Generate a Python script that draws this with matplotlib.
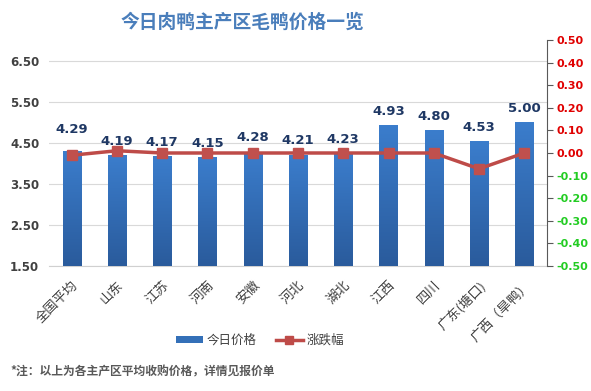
import numpy as np
import matplotlib
matplotlib.use("Agg")
import matplotlib.pyplot as plt
from matplotlib.colors import LinearSegmentedColormap
from matplotlib.lines import Line2D
from matplotlib.patches import Patch

plt.rcParams['font.family'] = ['Noto Sans CJK SC', 'DejaVu Sans']

# data
regions = ['全国平均', '山东', '江苏', '河南', '安徽', '河北', '湖北', '江西', '四川', '广东(塘口)', '广西（旱鸭）']
prices = [4.29, 4.19, 4.17, 4.15, 4.28, 4.21, 4.23, 4.93, 4.80, 4.53, 5.00]
changes = [-0.01, 0.01, 0.00, 0.00, 0.00, 0.00, 0.00, 0.00, 0.00, -0.07, 0.00]
left_ticks = [1.5, 2.5, 3.5, 4.5, 5.5, 6.5]
right_ticks = [0.5, 0.4, 0.3, 0.2, 0.1, 0.0, -0.1, -0.2, -0.3, -0.4, -0.5]

fig = plt.figure(figsize=(5.91, 3.91), dpi=100)
ax = fig.add_axes([0.0829, 0.3197, 0.8426, 0.578])
ax2 = ax.twinx()

x = np.arange(len(regions))
bars = ax.bar(x, prices, width=0.4, bottom=0, color='#3470b8', zorder=2)

# gradient fill on the bars
cmap = LinearSegmentedColormap.from_list('blu', ['#2a5b9c', '#3b7dcc'])
grad = np.linspace(0, 1, 100).reshape(-1, 1)
for b in bars:
	bx, bw, bh = b.get_x(), b.get_width(), b.get_height()
	im = ax.imshow(grad, cmap=cmap, origin='lower', aspect='auto',
				   extent=[bx, bx + bw, 1.5, bh], zorder=3)
	im.set_clip_path(b)
ax.set_xlim(-0.5, len(regions) - 0.5)
ax.set_ylim(1.5, 7.0)

ax.set_yticks(left_ticks)
ax.set_yticklabels(['%.2f' % t for t in left_ticks], fontsize=8.5, color='#404040',
				   fontweight='semibold', family='DejaVu Sans')
ax.yaxis.grid(True, color='#d9d9d9', linewidth=0.8, zorder=0)
ax.set_axisbelow(True)
ax.tick_params(axis='y', length=0, pad=7)
ax.set_xticks(x)
ax.set_xticklabels(regions, rotation=45, ha='right', va='top', rotation_mode='anchor',
				   fontsize=9.5, color='#404040')
ax.tick_params(axis='x', length=0, pad=9)
for s in ['top', 'left', 'right']:
	ax.spines[s].set_visible(False)
ax.spines['bottom'].set_color('#d0d0d0')

# change line
ax2.plot(x, changes, color='#be4b48', linewidth=2.5, marker='s', markersize=7,
		 markerfacecolor='#c0504d', markeredgecolor='#c0504d', zorder=4)
ax2.set_ylim(-0.5, 0.5)
ax2.set_yticks(right_ticks)
ax2.set_yticklabels(['%.2f' % t for t in right_ticks], fontsize=8, fontweight='bold',
					family='DejaVu Sans')
for t, lab in zip(right_ticks, ax2.get_yticklabels()):
	lab.set_color('#e00000' if t >= -0.001 else '#22cc22')
ax2.tick_params(axis='y', direction='out', length=4, color='#595959', pad=3)
for s in ['top', 'left', 'bottom']:
	ax2.spines[s].set_visible(False)
ax2.spines['right'].set_color('#595959')

# value labels
for i, v in enumerate(prices):
	off = 16 if i == 0 else 10
	ax2.annotate('%.2f' % v, xy=(i, v), xycoords=ax.transData, xytext=(0, off),
				 textcoords='offset points', ha='center', va='center',
				 fontsize=9.5, fontweight='bold', color='#1f3864', family='DejaVu Sans')

fig.text(0.41, 0.944, '今日肉鸭主产区毛鸭价格一览', ha='center', va='center',
		 fontsize=13.5, fontweight='bold', color='#4a7ebb')

handles = [Patch(facecolor='#3470b8', edgecolor='none'),
		   Line2D([], [], color='#be4b48', linewidth=2.5, marker='s', markersize=6)]
fig.legend(handles, ['今日价格', '涨跌幅'], loc='center', bbox_to_anchor=(0.44, 0.13),
		   ncol=2, frameon=False, fontsize=9, labelcolor='#404040',
		   handlelength=2.2, handleheight=0.5, columnspacing=1.5, handletextpad=0.3)

fig.text(0.017, 0.048, '*注：以上为各主产区平均收购价格，详情见报价单', ha='left', va='center',
		 fontsize=8.5, fontweight='bold', color='#595959')

fig.savefig('out.png', dpi=100)
